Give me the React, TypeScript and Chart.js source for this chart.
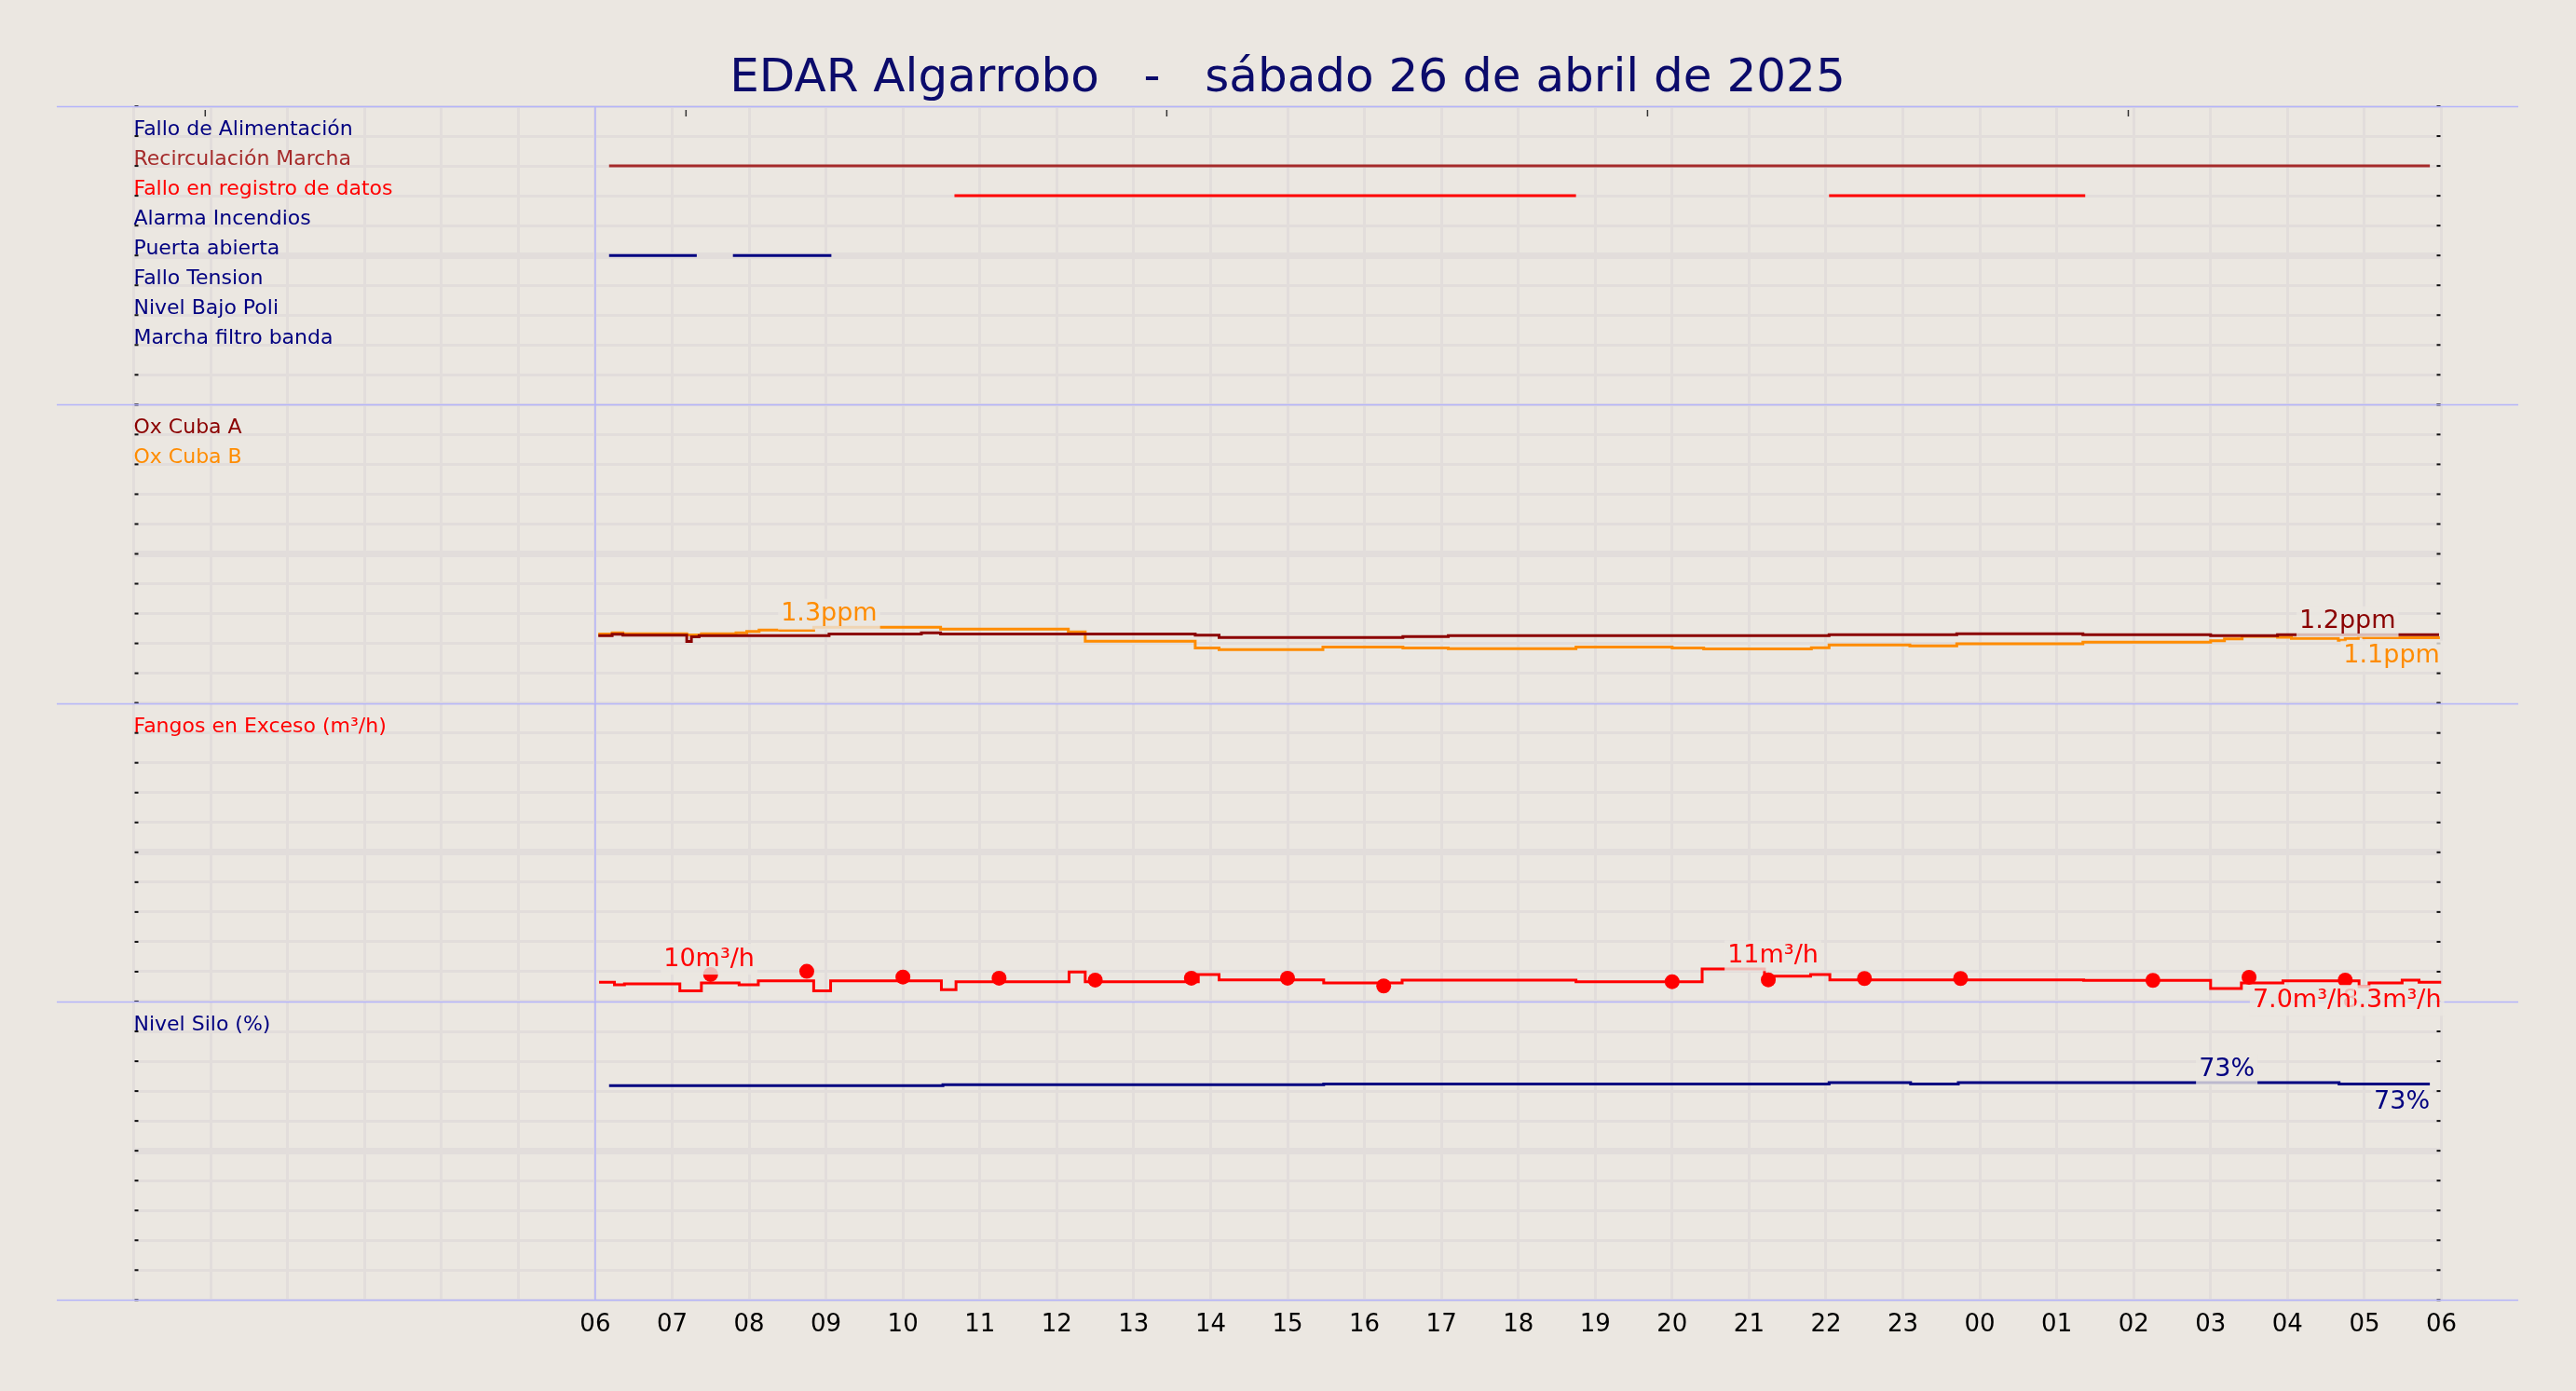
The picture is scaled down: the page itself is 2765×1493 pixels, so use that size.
import React, { useEffect, useRef } from 'react';
import { Chart, registerables } from 'chart.js';

Chart.register(...registerables);

// ---------- text ----------
const TITLE = 'EDAR Algarrobo   -   sábado 26 de abril de 2025';
const HOUR_LABELS = ['06', '07', '08', '09', '10', '11', '12', '13', '14', '15', '16', '17', '18', '19', '20', '21', '22', '23', '00', '01', '02', '03', '04', '05', '06'];
const X_MIN = 0;
const X_MAX = 30;
const DAY_START = 6;
const TOP_TICKS = [0.93, 7.18, 13.43, 19.68, 25.93];

// ---------- panel 1: digital signals ----------
const SIGNAL_NAMES = ['Fallo de Alimentación', 'Recirculación Marcha', 'Fallo en registro de datos', 'Alarma Incendios', 'Puerta abierta', 'Fallo Tension', 'Nivel Bajo Poli', 'Marcha filtro banda'];
const SIGNAL_COLORS = ['#000080', '#a52a2a', '#ff0000', '#000080', '#000080', '#000080', '#000080', '#000080'];
const SIGNAL_ROWS = [9, 8, 7, 6, 5, 4, 3, 2];
const SIGNAL_ON: number[][][] = [
  [],
  [[6.18, 29.85]],
  [[10.67, 18.75], [22.04, 25.37]],
  [],
  [[6.18, 7.32], [7.79, 9.07]],
  [],
  [],
  [],
];

// ---------- panel 2: oxygen ----------
const OX_NAMES = ['Ox Cuba A', 'Ox Cuba B'];
const OX_COLORS = ['#8b0000', '#ff8c00'];
const OXA_T = [6.04, 6.22, 6.36, 7.19, 7.25, 7.35, 9.04, 10.24, 10.49, 13.8, 14.11, 16.5, 17.09, 22.04, 23.7, 25.34, 27.0, 27.87, 29.97];
const OXA_V = [1.166, 1.19, 1.173, 1.065, 1.145, 1.166, 1.194, 1.215, 1.194, 1.173, 1.134, 1.15, 1.166, 1.182, 1.198, 1.182, 1.166, 1.182, 1.182];
const OXB_T = [6.04, 6.22, 6.36, 7.19, 7.38, 7.83, 7.97, 8.13, 8.41, 8.84, 10.49, 12.15, 12.37, 13.8, 14.11, 15.46, 16.5, 17.09, 18.75, 20.0, 20.41, 21.81, 22.04, 23.09, 23.7, 25.34, 27.0, 27.18, 27.41, 27.87, 28.05, 28.66, 28.75, 28.92, 28.99, 29.98];
const OXB_V = [1.194, 1.215, 1.198, 1.177, 1.198, 1.215, 1.237, 1.263, 1.258, 1.311, 1.279, 1.231, 1.069, 0.952, 0.924, 0.968, 0.952, 0.94, 0.968, 0.952, 0.935, 0.956, 1.005, 0.989, 1.027, 1.053, 1.076, 1.108, 1.156, 1.14, 1.118, 1.085, 1.118, 1.156, 1.129, 1.129];
const OX_RANGE = [0, 5.16];

// ---------- panel 3: excess sludge ----------
const FAN_NAME = 'Fangos en Exceso (m³/h)';
const FAN_COLOR = '#ff0000';
const FAN_T = [6.05, 6.25, 6.38, 7.1, 7.38, 7.87, 8.12, 8.84, 9.06, 10.5, 10.69, 12.16, 12.37, 13.84, 14.11, 15.47, 16.49, 18.75, 20.39, 21.2, 21.8, 22.05, 25.35, 27.0, 27.4, 27.94, 28.93, 29.06, 29.49, 29.71, 30.0];
const FAN_V = [8.28, 7.76, 7.95, 6.49, 8.14, 7.76, 8.58, 6.49, 8.58, 6.75, 8.39, 10.37, 8.39, 9.86, 8.77, 8.14, 8.71, 8.39, 11.0, 9.53, 9.86, 8.77, 8.66, 7.0, 8.14, 8.58, 7.38, 8.14, 8.71, 8.28, 8.28];
const FAN_DOT_T = [7.5, 8.75, 10.0, 11.25, 12.5, 13.75, 15.0, 16.25, 20.0, 21.25, 22.5, 23.75, 26.25, 27.5, 28.75];
const FAN_DOT_V = [9.86, 10.49, 9.34, 9.1, 8.71, 9.1, 9.1, 7.51, 8.39, 8.77, 9.04, 9.04, 8.66, 9.29, 8.71];
const FAN_RANGE = [4.33, 65.28];

// ---------- panel 4: silo level ----------
const SILO_NAME = 'Nivel Silo (%)';
const SILO_COLOR = '#000080';
const SILO_T = [6.18, 10.52, 15.47, 22.04, 23.1, 23.72, 28.67, 29.85];
const SILO_V = [71.8, 72.1, 72.4, 72.8, 72.4, 72.8, 72.4, 72.4];
const SILO_RANGE = [0, 100];

// ---------- value tags ----------
const OX_TAGS = [
  { text: '1.3ppm', x: 9.04, v: 1.311, color: '#ff8c00', align: 'center', pos: 'above' },
  { text: '1.2ppm', x: 28.78, v: 1.182, color: '#8b0000', align: 'center', pos: 'above' },
  { text: '1.1ppm', x: 29.98, v: 1.129, color: '#ff8c00', align: 'right', pos: 'below' },
];
const FAN_TAGS = [
  { text: '10m³/h', x: 7.48, v: 10.3, color: '#ff0000', align: 'center', pos: 'above' },
  { text: '11m³/h', x: 21.31, v: 11.0, color: '#ff0000', align: 'center', pos: 'above' },
  { text: '8.3m³/h', x: 30.0, v: 8.28, color: '#ff0000', align: 'right', pos: 'below' },
  { text: '7.0m³/h', x: 28.19, v: 8.28, color: '#ff0000', align: 'center', pos: 'below' },
];
const SILO_TAGS = [
  { text: '73%', x: 27.21, v: 72.8, color: '#000080', align: 'center', pos: 'above' },
  { text: '73%', x: 29.85, v: 72.4, color: '#000080', align: 'right', pos: 'below' },
];

// ---------- style ----------
const BG = '#ebe7e1';
const GRID = '#e2dddb';
const SEP = '#b4b4fa';
const TAG_BOX = 'rgba(235,231,225,0.8)';
const TITLE_COLOR = '#0b0b6b';
const FONT = '"DejaVu Sans", sans-serif';

function stepPoints(t: number[], v: number[]) {
  return t.map((x, i) => ({ x, y: v[i] }));
}

function onOffPoints(spans: number[][], row: number) {
  const pts: any[] = [];
  spans.forEach(([a, b]) => {
    pts.push({ x: a, y: row }, { x: b, y: row }, { x: b, y: null });
  });
  return pts;
}

function yAxis(range: number[], weight: number) {
  const [min, max] = range;
  return {
    type: 'linear',
    position: 'left',
    stack: 'panels',
    stackWeight: 1,
    weight,
    min,
    max,
    ticks: { display: false },
    border: { display: false },
    grid: {
      color: GRID,
      lineWidth: (c: any) => (c.index === 5 ? 7 : 3),
      drawTicks: false,
      z: -1,
    },
    afterBuildTicks: (s: any) => {
      s.ticks = Array.from({ length: 11 }, (_, i) => ({ value: min + ((max - min) * i) / 10 }));
    },
  };
}

function drawTag(ctx: CanvasRenderingContext2D, tag: any, xs: any, ys: any) {
  const size = 27;
  ctx.font = `${size}px ${FONT}`;
  const w = ctx.measureText(tag.text).width;
  const px = xs.getPixelForValue(tag.x);
  const py = ys.getPixelForValue(tag.v);
  const asc = 0.76 * size;
  const desc = 0.24 * size;
  const baseline = tag.pos === 'above' ? py - 7 : py + 7 + 0.729 * size;
  const left = tag.align === 'center' ? px - w / 2 : tag.align === 'right' ? px - w : px;
  ctx.fillStyle = TAG_BOX;
  ctx.fillRect(left - 3, baseline - asc - 3, w + 6, asc + desc + 6);
  ctx.fillStyle = tag.color;
  ctx.textAlign = 'left';
  ctx.textBaseline = 'alphabetic';
  ctx.fillText(tag.text, left, baseline);
}

const decorPlugin = {
  id: 'decor',
  beforeDraw(chart: any) {
    const { ctx, width, height } = chart;
    ctx.save();
    ctx.fillStyle = BG;
    ctx.fillRect(0, 0, width, height);
    ctx.restore();
  },
  beforeDatasetsDraw(chart: any) {
    const { ctx, chartArea, scales } = chart;
    const xs = scales.x;
    ctx.save();
    // vertical marker at start of day
    ctx.strokeStyle = SEP;
    ctx.lineWidth = 1.5;
    const x6 = xs.getPixelForValue(DAY_START);
    ctx.beginPath();
    ctx.moveTo(x6, chartArea.top);
    ctx.lineTo(x6, chartArea.bottom);
    ctx.stroke();
    // small tick dashes
    ctx.fillStyle = '#111';
    ['ySig', 'yOx', 'yFan', 'ySilo'].forEach((id) => {
      const s = scales[id];
      s.ticks.forEach((t: any) => {
        const py = s.getPixelForValue(t.value);
        ctx.fillRect(chartArea.right - 5, py - 1, 4, 2);
        ctx.fillRect(chartArea.left + 1, py - 1, 4, 2);
      });
    });
    // top tick marks
    ctx.strokeStyle = '#333';
    ctx.lineWidth = 1.5;
    TOP_TICKS.forEach((h) => {
      const px = xs.getPixelForValue(h);
      ctx.beginPath();
      ctx.moveTo(px, chartArea.top + 4);
      ctx.lineTo(px, chartArea.top + 11);
      ctx.stroke();
    });
    // panel separators
    ctx.strokeStyle = SEP;
    ctx.lineWidth = 1.5;
    const xl = xs.getPixelForValue(X_MIN - 1);
    const xr = xs.getPixelForValue(X_MAX + 1);
    const ysSet = new Set<number>();
    ['ySig', 'yOx', 'yFan', 'ySilo'].forEach((id) => {
      ysSet.add(Math.round(scales[id].top));
      ysSet.add(Math.round(scales[id].bottom));
    });
    ysSet.forEach((y) => {
      ctx.beginPath();
      ctx.moveTo(xl, y + 0.5);
      ctx.lineTo(xr, y + 0.5);
      ctx.stroke();
    });
    ctx.restore();
  },
  afterDatasetsDraw(chart: any) {
    const { ctx, chartArea, scales } = chart;
    const xs = scales.x;
    ctx.save();
    ctx.font = `22px ${FONT}`;
    ctx.textAlign = 'left';
    ctx.textBaseline = 'alphabetic';
    const lx = chartArea.left;
    // panel 1 labels
    SIGNAL_NAMES.forEach((name, i) => {
      ctx.fillStyle = SIGNAL_COLORS[i];
      ctx.fillText(name, lx, scales.ySig.getPixelForValue(SIGNAL_ROWS[i]) - 1);
    });
    const rowY = (s: any, k: number) => s.getPixelForValue(s.ticks[9 - k].value) - 1;
    OX_NAMES.forEach((name, i) => {
      ctx.fillStyle = OX_COLORS[i];
      ctx.fillText(name, lx, rowY(scales.yOx, i));
    });
    ctx.fillStyle = FAN_COLOR;
    ctx.fillText(FAN_NAME, lx, rowY(scales.yFan, 0));
    ctx.fillStyle = SILO_COLOR;
    ctx.fillText(SILO_NAME, lx, rowY(scales.ySilo, 0));
    // value tags
    OX_TAGS.forEach((t) => drawTag(ctx, t, xs, scales.yOx));
    FAN_TAGS.forEach((t) => drawTag(ctx, t, xs, scales.yFan));
    SILO_TAGS.forEach((t) => drawTag(ctx, t, xs, scales.ySilo));
    ctx.restore();
  },
};

export default function App() {
  const ref = useRef<HTMLCanvasElement | null>(null);

  useEffect(() => {
    if (!ref.current) return;
    const lineBase = {
      borderWidth: 3,
      pointRadius: 0,
      stepped: true,
      fill: false,
      tension: 0,
      spanGaps: false,
      borderCapStyle: 'butt',
      order: 1,
    };
    const datasets: any[] = [];
    SIGNAL_NAMES.forEach((name, i) => {
      if (!SIGNAL_ON[i].length) return;
      datasets.push({
        ...lineBase,
        label: name,
        data: onOffPoints(SIGNAL_ON[i], SIGNAL_ROWS[i]),
        borderColor: SIGNAL_COLORS[i],
        yAxisID: 'ySig',
      });
    });
    datasets.push({ ...lineBase, label: OX_NAMES[0], data: stepPoints(OXA_T, OXA_V), borderColor: OX_COLORS[0], yAxisID: 'yOx' });
    datasets.push({ ...lineBase, label: OX_NAMES[1], data: stepPoints(OXB_T, OXB_V), borderColor: OX_COLORS[1], yAxisID: 'yOx' });
    datasets.push({ ...lineBase, label: FAN_NAME, data: stepPoints(FAN_T, FAN_V), borderColor: FAN_COLOR, yAxisID: 'yFan' });
    datasets.push({
      label: 'Fangos puntos',
      data: stepPoints(FAN_DOT_T, FAN_DOT_V),
      showLine: false,
      pointRadius: 8,
      pointBorderWidth: 0,
      pointBackgroundColor: FAN_COLOR,
      borderColor: FAN_COLOR,
      yAxisID: 'yFan',
      order: 0,
    });
    datasets.push({ ...lineBase, label: SILO_NAME, data: stepPoints(SILO_T, SILO_V), borderColor: SILO_COLOR, yAxisID: 'ySilo' });

    const chart = new Chart(ref.current, {
      type: 'line',
      data: { datasets },
      plugins: [decorPlugin],
      options: {
        animation: false,
        responsive: false,
        maintainAspectRatio: false,
        devicePixelRatio: 1,
        events: [],
        layout: { padding: { left: 143.5, right: 144.5, top: 0, bottom: 44.5 } },
        plugins: {
          legend: { display: false },
          tooltip: { enabled: false },
          title: {
            display: true,
            text: TITLE,
            color: TITLE_COLOR,
            font: { family: FONT, size: 50, weight: 'normal', lineHeight: 1.16 },
            padding: { top: 56, bottom: 0 },
          },
        },
        scales: {
          x: {
            type: 'linear',
            position: 'bottom',
            min: X_MIN,
            max: X_MAX,
            afterBuildTicks: (s: any) => {
              s.ticks = Array.from({ length: X_MAX - X_MIN + 1 }, (_, i) => ({ value: X_MIN + i }));
            },
            ticks: {
              autoSkip: false,
              maxRotation: 0,
              padding: 11,
              color: '#000',
              font: { family: FONT, size: 26 },
              callback: (v: any) => (v >= DAY_START ? HOUR_LABELS[v - DAY_START] : ''),
            },
            grid: { color: GRID, lineWidth: 3, drawTicks: false, z: -2 },
            border: { display: false },
          },
          ySig: yAxis([0, 10], 4),
          yOx: yAxis(OX_RANGE, 3),
          yFan: yAxis(FAN_RANGE, 2),
          ySilo: yAxis(SILO_RANGE, 1),
        } as any,
      } as any,
    });
    return () => chart.destroy();
  }, []);

  return (
    <div style={{ position: 'fixed', left: 0, top: 0, width: 2765, height: 1493, background: BG, overflow: 'hidden' }}>
      <canvas ref={ref} width={2765} height={1493} style={{ display: 'block', width: 2765, height: 1493 }} />
    </div>
  );
}
